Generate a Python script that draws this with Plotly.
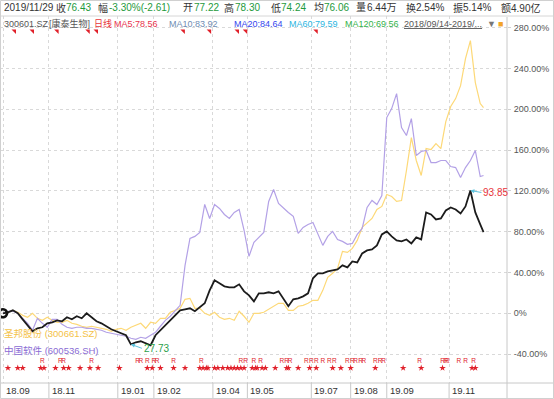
import plotly.graph_objects as go

# ---------------- data ----------------
# trading-day index (every 3rd session, 2018-09-14 .. 2019-11-29)
day_idx = list(range(0, 292, 3)) + [293]

# 300601.SZ 康泰生物, % change since start
kangtai = [0, 1.0, 2.9, 0, -5.9, -11.7, -17.6, -14.7, -13.7, -9.8,
           -8.8, -6.9, -7.8, -3.9, -5.9, -2.9, -4.9, 0, -3.9, -7.8,
           -9.8, -12.7, -15.7, -17.6, -19.6, -21.5, -30.4, -28.4, -27.4, -29.4,
           -31.3, -21.5, -16.6, -11.7, -7.8, -2.0, 2.9, 3.9, 4.9, 2.0,
           5.9, 9.8, 22.5, 32.3, 29.4, 26.4, 25.5, 25.5, 28.4, 21.5,
           17.6, 11.7, 19.6, 19.6, 20.6, 19.6, 21.5, 14.7, 6.9, 13.7,
           14.7, 16.6, 19.6, 34.3, 39.2, 39.2, 41.1, 42.1, 43.1, 47.0,
           45.0, 50.9, 49.9, 58.7, 61.7, 62.7, 66.6, 77.3, 80.3, 75.4,
           71.5, 70.5, 72.4, 68.5, 74.4, 72.4, 98.9, 96.9, 92.0, 93.0,
           100.8, 103.8, 101.8, 97.9, 104.8, 120.4, 98.9, 87.1, 79.6]

# 600536.SH 中国软件
zgrj = [0, 2.0, 2.0, 0, -4.9, -9.8, -16.6, -4.9, -9.8, -13.7,
        -5.9, -5.9, -10.8, -13.7, -14.7, -13.7, -13.7, -14.7, -14.7, -15.7,
        -16.6, -18.6, -19.6, -20.6, -21.5, -22.5, -24.5, -25.5, -23.5, -24.5,
        -21.5, -18.6, -12.7, -6.9, -2.9, 2.9, 7.8, 47.0, 73.4, 75.4,
        79.3, 106.7, 93.0, 106.7, 102.8, 96.9, 93.0, 98.9, 101.8, 81.3,
        55.8, 69.5, 74.4, 79.3, 109.7, 121.4, 107.7, 102.8, 98.9, 95.0,
        78.3, 84.2, 87.1, 89.1, 78.3, 66.6, 75.4, 80.3, 72.4, 70.5,
        67.6, 68.5, 77.3, 83.2, 103.8, 110.6, 106.7, 115.5, 191.9, 200.7,
        215.4, 182.1, 174.3, 190.9, 154.7, 158.6, 159.6, 147.8, 147.8, 149.8,
        149.8, 143.9, 142.9, 133.2, 142.9, 149.8, 159.6, 134.1, 135.1]

# 300661.SZ 圣邦股份
sbgf = [0, 1.0, 2.9, 1.0, -2.0, -3.9, 0, -4.9, -6.9, -3.9,
        -6.9, -8.8, -8.8, -6.9, -9.8, -10.8, -12.7, -13.7, -12.7, -13.7,
        -14.7, -15.7, -17.6, -15.7, -14.7, -16.6, -13.7, -11.7, -9.8, -14.7,
        -8.8, -9.8, -4.9, -4.9, 1.0, 2.9, 4.9, 13.7, 14.7, 4.9,
        4.9, 0, -2.0, 1.0, -3.9, -5.9, -4.9, -6.9, 2.0, -2.9,
        -8.8, 0, 0, 1.0, 3.9, 6.9, 9.8, 9.8, 2.9, 2.9,
        6.9, 7.8, 9.8, 12.7, 12.7, 22.5, 35.2, 39.2, 44.1, 60.7,
        59.7, 63.6, 71.5, 84.2, 89.1, 93.0, 101.8, 104.8, 116.5, 114.5,
        109.7, 110.6, 140.0, 172.3, 149.8, 135.1, 161.5, 160.6, 166.4, 161.5,
        188.0, 202.7, 210.5, 223.2, 249.7, 267.3, 226.2, 205.6, 201.7]

month_idx = [0, 28, 70, 92, 128, 149, 188, 212, 234, 272]
month_labels = ["18.09", "18.11", "19.01", "19.02", "19.04", "19.05",
                "19.07", "19.08", "19.09", "19.11"]

y_ticks = [-40, 0, 40, 80, 120, 160, 200, 240, 280]
y_labels = ["-40.00%", "0%", "40.00%", "80.00%", "120.00%", "160.00%",
            "200.00%", "240.00%", "280.00%"]

info_idx = [7, 18, 33, 52, 57, 110, 126, 143, 148, 191]
star_idx = [3, 9, 12, 23, 25, 32, 37, 40, 47, 53, 58, 71, 88, 91, 96, 104, 111,
            120, 122, 124, 125, 129, 131, 134, 137, 139, 141, 143, 145, 147,
            152, 154, 155, 158, 160, 166, 173, 174, 180, 187, 191, 201, 206,
            212, 227, 244, 255, 268, 286, 288]
r_idx = [24, 35, 37, 54, 82, 84, 88, 92, 94, 104, 121, 145, 148, 153, 157,
         170, 173, 175, 185, 188, 191, 195, 199, 202, 210, 213, 215, 218, 220,
         227, 230, 232, 254, 268, 270, 271, 278, 282, 287]

low_idx, low_text = 78, "27.73"
high_idx, high_text = 285, "93.85"

header1 = [("2019/11/29", "#333333"), ("收", "#333333"), ("76.43", "#1e9a3c"),
           ("幅", "#333333"), ("-3.30%(-2.61)", "#1e9a3c"), ("开", "#333333"),
           ("77.22", "#1e9a3c"), ("高", "#333333"), ("78.30", "#1e9a3c"),
           ("低", "#333333"), ("74.24", "#1e9a3c"), ("均", "#333333"),
           ("76.06", "#1e9a3c"), ("量", "#333333"), ("6.44万", "#333333"),
           ("换", "#333333"), ("2.54%", "#333333"), ("振", "#333333"),
           ("5.14%", "#333333"), ("额", "#333333"), ("4.90亿", "#333333")]
header1_px = [2, 54, 64, 96, 107, 181, 192, 222, 233, 269, 279, 312, 322,
              354, 365, 404, 414, 451, 461, 499, 509]

header2 = [("300601.SZ", "#555555"), ("[康泰生物]", "#555555"), ("日线", "#e8343a"),
           ("MA5:78.56", "#e8344e"), ("MA10:83.92", "#6f8db3"),
           ("MA20:84.64", "#3446ee"), ("MA60:79.59", "#2bb5df"),
           ("MA120:69.56", "#35b24a"),
           ("<span style='text-decoration:underline'>2018/09/14-2019/...</span>", "#555555"),
           ("▼", "#777777"), ("■", "#f2a42a")]
header2_px = [2, 47, 92, 112, 167, 232, 287, 343, 402, 485, 496]

# ---------------- geometry ----------------
W, H = 554, 399
ML, MR, MT, MB = 0, 47, 16, 16
PW, PH = W - ML - MR, H - MT - MB
X0PX, XSTEP = 3.0, 1.64          # pixel of first session, px per session
Y0PX, YSCALE = 313.3 - MT, 1.02  # pixel of 0% inside plot, px per %


def py(ypx):  # image pixel y -> paper y
    return (H - MB - ypx) / PH


def pxx(xpx):  # image pixel x -> paper x
    return (xpx - ML) / PW


xr = [(0 - X0PX) / XSTEP, (PW - X0PX) / XSTEP]
yr = [-(PH - Y0PX) / YSCALE, Y0PX / YSCALE]

FONT = "Liberation Sans, Noto Sans CJK SC, sans-serif"

fig = go.Figure()
fig.add_trace(go.Scatter(x=day_idx, y=sbgf, mode="lines",
                         line=dict(color="#fdd978", width=1.2), hoverinfo="skip"))
fig.add_trace(go.Scatter(x=day_idx, y=zgrj, mode="lines",
                         line=dict(color="#b3a1e6", width=1.2), hoverinfo="skip"))
fig.add_trace(go.Scatter(x=day_idx, y=kangtai, mode="lines",
                         line=dict(color="#1c1c1c", width=1.8), hoverinfo="skip"))
fig.add_trace(go.Scatter(x=day_idx[:1], y=kangtai[:1], mode="markers",
                         marker=dict(symbol="circle-open", size=8, color="#111",
                                     line=dict(width=2.6, color="#111")),
                         hoverinfo="skip"))

# event markers on an invisible overlay axis (0..1 of plot height)
fig.add_trace(go.Scatter(x=info_idx, y=[py(31)] * len(info_idx), yaxis="y2",
                         mode="markers",
                         marker=dict(symbol="triangle-ne", size=5, color="#e0202a"),
                         hoverinfo="skip"))
fig.add_trace(go.Scatter(x=star_idx, y=[py(368)] * len(star_idx), yaxis="y2",
                         mode="markers",
                         marker=dict(symbol="star", size=5, color="#e0202a"),
                         hoverinfo="skip"))
fig.add_trace(go.Scatter(x=r_idx, y=[py(361)] * len(r_idx), yaxis="y2",
                         mode="text", text=["R"] * len(r_idx),
                         textfont=dict(size=6.5, color="#e0202a", family=FONT),
                         hoverinfo="skip"))

ann = []
for (t, c), xp in zip(header1, header1_px):
    ann.append(dict(text=t, x=pxx(xp), y=py(8), xref="paper", yref="paper",
                    xanchor="left", yanchor="middle", showarrow=False,
                    font=dict(size=10, color=c, family=FONT)))
for (t, c), xp in zip(header2, header2_px):
    ann.append(dict(text=t, x=pxx(xp), y=py(24), xref="paper", yref="paper",
                    xanchor="left", yanchor="middle", showarrow=False,
                    font=dict(size=9, color=c, family=FONT)))
for m, lab in zip(month_idx, month_labels):
    ann.append(dict(text=lab, x=m, y=py(390), xref="x", yref="paper",
                    xanchor="left", yanchor="middle", xshift=1, showarrow=False,
                    font=dict(size=9.5, color="#333333", family=FONT)))
ann.append(dict(text="圣邦股份 (300661.SZ)", x=pxx(2), y=py(333), xref="paper",
                yref="paper", xanchor="left", yanchor="middle", showarrow=False,
                font=dict(size=9.5, color="#f4c247", family=FONT)))
ann.append(dict(text="中国软件 (600536.SH)", x=pxx(2), y=py(350), xref="paper",
                yref="paper", xanchor="left", yanchor="middle", showarrow=False,
                font=dict(size=9.5, color="#8a6cd4", family=FONT)))
ann.append(dict(text=low_text, x=low_idx, y=kangtai[day_idx.index(low_idx)],
                xref="x", yref="y", xanchor="left", yanchor="middle",
                showarrow=True, ax=11, ay=4, arrowhead=2, arrowsize=0.8,
                arrowwidth=1, arrowcolor="#5ec3dd",
                font=dict(size=10, color="#2aa04a", family=FONT)))
ann.append(dict(text=high_text, x=high_idx, y=kangtai[day_idx.index(high_idx)],
                xref="x", yref="y", xanchor="left", yanchor="middle",
                showarrow=True, ax=11, ay=2, arrowhead=2, arrowsize=0.8,
                arrowwidth=1, arrowcolor="#5ec3dd",
                font=dict(size=10, color="#e8343a", family=FONT)))

shapes = []
# header separator and bottom strip line
shapes.append(dict(type="line", xref="paper", yref="paper", x0=0, x1=pxx(W),
                   y0=1, y1=1, line=dict(color="#d6d6d6", width=1)))
shapes.append(dict(type="line", xref="paper", yref="paper", x0=0, x1=pxx(W),
                   y0=0, y1=0, line=dict(color="#c8c8c8", width=1)))
for m in month_idx[1:]:
    shapes.append(dict(type="line", xref="x", yref="paper", x0=m, x1=m,
                       y0=0, y1=py(H), line=dict(color="#c8c8c8", width=1)))
shapes.append(dict(type="line", xref="paper", yref="paper", x0=1, x1=1,
                   y0=py(H), y1=py(17), line=dict(color="#c8c8c8", width=1)))
shapes.append(dict(type="rect", xref="paper", yref="paper", x0=pxx(0.5),
                   x1=pxx(W - 0.5), y0=py(H - 0.5), y1=py(0.5),
                   line=dict(color="#d0d0d0", width=1)))

fig.update_layout(
    width=W, height=H, margin=dict(l=ML, r=MR, t=MT, b=MB, pad=0),
    paper_bgcolor="white", plot_bgcolor="white", showlegend=False,
    annotations=ann, shapes=shapes,
    xaxis=dict(range=xr, tickvals=month_idx, showticklabels=False,
               showgrid=True, gridcolor="#d9d9d9", griddash="dot", gridwidth=1,
               zeroline=False, showline=False, ticks=""),
    yaxis=dict(range=yr, side="right", tickvals=y_ticks, ticktext=y_labels,
               showgrid=True, gridcolor="#d9d9d9", griddash="dot", gridwidth=1,
               zeroline=False, showline=False, ticks="outside", ticklen=3,
               tickcolor="#d0d0d0", ticklabelstandoff=1,
               tickfont=dict(size=9, color="#555555", family=FONT)),
    yaxis2=dict(range=[0, 1], overlaying="y", visible=False),
)

fig.write_html("out.html",
               config={"displayModeBar": False},
               post_script="document.body.style.margin='0px';"
                           "document.body.style.overflow='hidden';")
